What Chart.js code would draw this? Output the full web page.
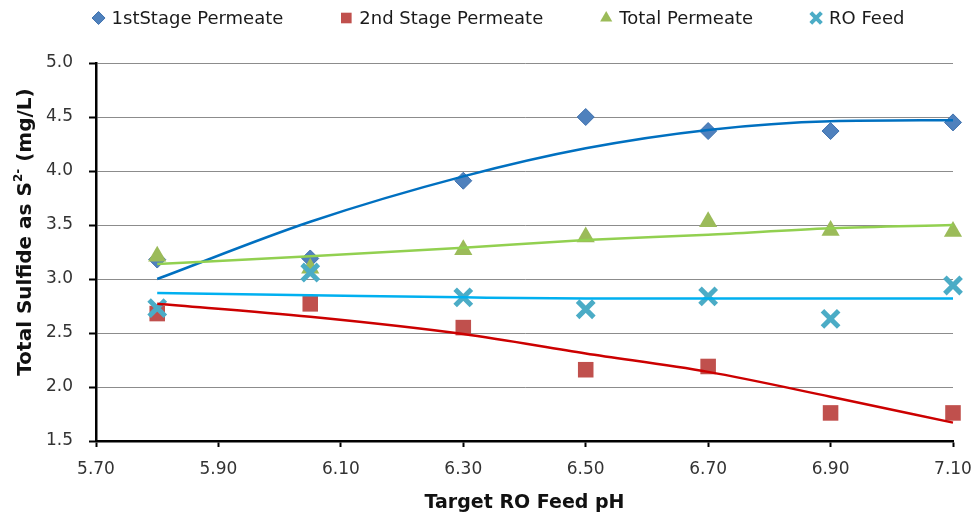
<!DOCTYPE html>
<html>
<head>
<meta charset="utf-8">
<script src="https://cdn.jsdelivr.net/npm/chart.js@4/dist/chart.umd.min.js"></script>
<style>
  html, body { margin: 0; padding: 0; background: #ffffff; }
  #wrap { width: 977px; height: 520px; }
</style>
</head>
<body>
<div id="wrap"><canvas id="chart" width="977" height="520"></canvas></div>
<script>
// Target RO feed pH at which each sample set was taken
const phTargets = [5.80, 6.05, 6.30, 6.50, 6.70, 6.90, 7.10];

// Measured total sulfide (mg/L as S2-)
const firstStage    = [3.18, 3.19, 3.91, 4.50, 4.37, 4.37, 4.45];
const secondStage   = [2.68, 2.77, 2.55, 2.16, 2.19, 1.76, 1.76];
const totalPermeate = [3.21, 3.10, 3.27, 3.39, 3.53, 3.45, 3.44];
const roFeed        = [2.73, 3.06, 2.83, 2.72, 2.84, 2.63, 2.94];

// Trend curves through each series
const firstStageTrend    = [3.00, 3.53, 3.95, 4.21, 4.38, 4.46, 4.47];
const secondStageTrend   = [2.77, 2.65, 2.49, 2.31, 2.14, 1.91, 1.67];
const totalPermeateTrend = [3.14, 3.21, 3.29, 3.36, 3.41, 3.47, 3.50];
const roFeedTrend        = [2.87, 2.85, 2.83, 2.82, 2.82, 2.82, 2.82];

// Axis ticks
const xTicks = [5.70, 5.90, 6.10, 6.30, 6.50, 6.70, 6.90, 7.10];
const yTicks = [1.5, 2.0, 2.5, 3.0, 3.5, 4.0, 4.5, 5.0];

const seriesNames = ['1stStage Permeate', '2nd Stage Permeate', 'Total Permeate', 'RO Feed'];
const xTitle = 'Target RO Feed pH';
const yTitleMain = 'Total Sulfide as S';
const yTitleSup = '2-';
const yTitleTail = ' (mg/L)';

const FONT = '"DejaVu Sans", "Open Sans", sans-serif';

const pts = (ys) => phTargets.map((x, i) => ({ x: x, y: ys[i] }));

function markerDataset(label, values, style) {
  return Object.assign({
    type: 'scatter',
    label: label,
    data: pts(values),
    showLine: false,
    clip: false
  }, style);
}

function trendDataset(values, color, order) {
  return {
    type: 'line',
    label: '',
    data: pts(values),
    borderColor: color,
    borderWidth: 2.5,
    pointRadius: 0,
    pointHoverRadius: 0,
    fill: false,
    clip: false,
    cubicInterpolationMode: 'monotone',
    order: order
  };
}

const datasets = [
  markerDataset(seriesNames[0], firstStage, {
    pointStyle: 'rectRot', pointRadius: 8.5,
    backgroundColor: '#4F81BD', borderColor: '#3F71AD', pointBorderWidth: 1, order: 8,
    legendRadius: 6.5, legendBorder: 1
  }),
  markerDataset(seriesNames[1], secondStage, {
    pointStyle: 'rect', pointRadius: 11,
    backgroundColor: '#C0504D', borderColor: '#C0504D', pointBorderWidth: 0, order: 7,
    legendRadius: 7.5, legendBorder: 0
  }),
  markerDataset(seriesNames[2], totalPermeate, {
    pointStyle: 'triangle', pointRadius: 10.5,
    backgroundColor: '#9BBB59', borderColor: '#9BBB59', pointBorderWidth: 0, order: 6,
    legendRadius: 7, legendBorder: 0
  }),
  markerDataset(seriesNames[3], roFeed, {
    pointStyle: 'crossRot', pointRadius: 11.5,
    backgroundColor: '#4BACC6', borderColor: '#4BACC6', pointBorderWidth: 5, order: 5,
    legendRadius: 7.5, legendBorder: 4
  }),
  trendDataset(firstStageTrend, '#0070C0', 4),
  trendDataset(secondStageTrend, '#CC0000', 3),
  trendDataset(totalPermeateTrend, '#92D050', 2),
  trendDataset(roFeedTrend, '#00B0F0', 1)
];

// Legend row and axis titles drawn on the canvas
const decorations = {
  id: 'decorations',
  afterDraw(chart) {
    const ctx = chart.ctx;
    const area = chart.chartArea;
    ctx.save();

    // legend
    const legendFont = '18px ' + FONT;
    ctx.font = legendFont;
    ctx.textBaseline = 'middle';
    ctx.textAlign = 'left';
    const markerToText = 13, textToNextMarker = 63, halfMarker = 5;
    const items = chart.data.datasets.slice(0, 4).map(ds => ({ ds: ds, w: ctx.measureText(ds.label).width }));
    let span = halfMarker;
    items.forEach((it, i) => { span += markerToText + it.w + (i < items.length - 1 ? textToNextMarker : 0); });
    const legendCenter = 499, legendY = 18;
    let mx = legendCenter - span / 2 + halfMarker;
    items.forEach(it => {
      const ds = it.ds;
      ctx.fillStyle = ds.backgroundColor;
      ctx.strokeStyle = ds.borderColor;
      ctx.lineWidth = ds.legendBorder;
      Chart.helpers.drawPoint(ctx, {
        pointStyle: ds.pointStyle,
        radius: ds.legendRadius,
        borderWidth: ds.legendBorder,
        rotation: 0
      }, mx, legendY);
      ctx.fillStyle = '#1a1a1a';
      ctx.font = legendFont;
      ctx.fillText(ds.label, mx + markerToText, legendY + 1);
      mx += markerToText + it.w + textToNextMarker;
    });

    // x-axis title
    ctx.font = 'bold 19px ' + FONT;
    ctx.fillStyle = '#111111';
    ctx.textAlign = 'center';
    ctx.textBaseline = 'middle';
    ctx.fillText(xTitle, (area.left + area.right) / 2, 503);

    // y-axis title with superscript charge
    const mainFont = 'bold 20px ' + FONT;
    const supFont = 'bold 12px ' + FONT;
    ctx.font = mainFont;
    const w1 = ctx.measureText(yTitleMain).width;
    const w3 = ctx.measureText(yTitleTail).width;
    ctx.font = supFont;
    const w2 = ctx.measureText(yTitleSup).width;
    const total = w1 + w2 + w3;
    ctx.translate(26, 232);
    ctx.rotate(-Math.PI / 2);
    ctx.textAlign = 'left';
    let tx = -total / 2;
    ctx.font = mainFont;
    ctx.fillText(yTitleMain, tx, 0);
    tx += w1;
    ctx.font = supFont;
    ctx.fillText(yTitleSup, tx, -7);
    tx += w2;
    ctx.font = mainFont;
    ctx.fillText(yTitleTail, tx, 0);

    ctx.restore();
  }
};

new Chart(document.getElementById('chart'), {
  type: 'scatter',
  data: { datasets: datasets },
  options: {
    responsive: false,
    animation: false,
    events: [],
    devicePixelRatio: 1,
    layout: { padding: { top: 63, right: 24, bottom: 0, left: 0 } },
    plugins: {
      legend: { display: false },
      tooltip: { enabled: false }
    },
    scales: {
      x: {
        type: 'linear',
        min: 5.70,
        max: 7.10,
        afterBuildTicks: (scale) => { scale.ticks = xTicks.map(v => ({ value: v })); },
        afterFit: (scale) => {
          scale.height = 79;
          scale.paddingLeft = 0;
          scale.paddingRight = 0;
        },
        ticks: {
          color: '#333333',
          font: { family: FONT, size: 17 },
          padding: 12,
          maxRotation: 0,
          callback: (v) => Number(v).toFixed(2)
        },
        grid: {
          drawOnChartArea: false,
          drawTicks: true,
          tickLength: 6,
          tickColor: '#000000',
          tickWidth: 2
        },
        border: { display: true, color: '#000000', width: 2.5 }
      },
      y: {
        type: 'linear',
        min: 1.5,
        max: 5.0,
        afterBuildTicks: (scale) => { scale.ticks = yTicks.map(v => ({ value: v })); },
        afterFit: (scale) => { scale.width = 96; },
        ticks: {
          color: '#333333',
          font: { family: FONT, size: 17 },
          padding: 16,
          callback: (v) => Number(v).toFixed(1)
        },
        grid: {
          color: '#8C8C8C',
          lineWidth: 1,
          drawTicks: true,
          tickLength: 7,
          tickColor: '#000000',
          tickWidth: 2
        },
        border: { display: true, color: '#000000', width: 2.5 }
      }
    }
  },
  plugins: [decorations]
});
</script>
</body>
</html>
